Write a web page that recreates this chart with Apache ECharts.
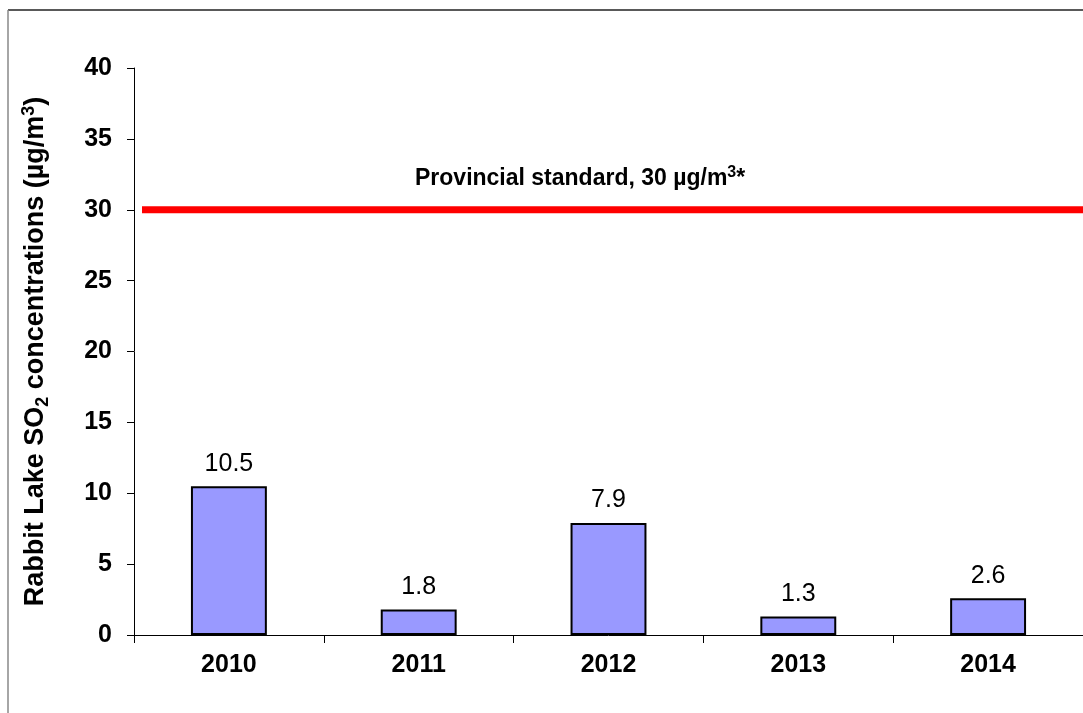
<!DOCTYPE html>
<html>
<head>
<meta charset="utf-8">
<script src="https://cdn.jsdelivr.net/npm/echarts@6/dist/echarts.min.js"></script>
<style>
  html, body { margin: 0; padding: 0; background: #fff; }
  #chart { width: 1083px; height: 713px; }
</style>
</head>
<body>
<div id="chart"></div>
<script>
// Annual mean SO2 concentrations at Rabbit Lake
const years = ['2010', '2011', '2012', '2013', '2014'];
const so2Values = [10.5, 1.8, 7.9, 1.3, 2.6];
const provincialStandard = 30;
const yTicks = { min: 0, max: 40, interval: 5 };

const chart = echarts.init(document.getElementById('chart'));
const font = 'Arial, "Liberation Sans", sans-serif';

const bold = (size, extra) => Object.assign(
  { fontFamily: font, fontWeight: 'bold', fontSize: size, color: '#000' }, extra || {});

chart.setOption({
  animation: false,
  backgroundColor: '#fff',
  grid: { left: 134, top: 68, height: 567, width: 961 },
  xAxis: {
    type: 'category',
    data: years,
    axisLine: { lineStyle: { color: '#000', width: 1 } },
    axisTick: { show: true, length: 8, alignWithLabel: false, lineStyle: { color: '#000' } },
    axisLabel: bold(25, { margin: 18 })
  },
  yAxis: {
    type: 'value',
    min: yTicks.min, max: yTicks.max, interval: yTicks.interval,
    name: '{a|Rabbit Lake SO}{sub|2}{a| concentrations (µg/m}{sup|3}{a|)}',
    nameLocation: 'middle',
    nameGap: 82,
    nameTextStyle: bold(27, {
      rich: {
        a: bold(27, { lineHeight: 32, verticalAlign: 'middle' }),
        sub: bold(18, { lineHeight: 32, verticalAlign: 'bottom' }),
        sup: bold(18, { lineHeight: 32, verticalAlign: 'top' })
      }
    }),
    axisLine: { show: true, lineStyle: { color: '#000', width: 1 } },
    axisTick: { show: true, length: 7, lineStyle: { color: '#000' } },
    splitLine: { show: false },
    axisLabel: bold(25, { margin: 22 })
  },
  series: [{
    type: 'bar',
    data: so2Values,
    barWidth: '40%',
    itemStyle: { color: '#9999FF', borderColor: '#000', borderWidth: 2 },
    label: {
      show: true, position: 'top', distance: 10,
      fontFamily: font, fontSize: 25, color: '#000',
      formatter: p => p.value.toFixed(1)
    }
  }]
});

// Provincial standard line, placed through the value axis scale
const yStd = chart.convertToPixel({ yAxisIndex: 0 }, provincialStandard);
chart.setOption({
  graphic: [
    { type: 'line', shape: { x1: 8, y1: 10, x2: 1083, y2: 10 }, style: { stroke: '#222', lineWidth: 1.5 } },
    { type: 'line', shape: { x1: 8, y1: 10, x2: 8, y2: 713 }, style: { stroke: '#888', lineWidth: 1.5 } },
    { type: 'line', shape: { x1: 142, y1: yStd, x2: 1083, y2: yStd }, style: { stroke: '#FF0000', lineWidth: 7 } },
    {
      type: 'text', left: 415, top: 165,
      style: {
        text: '{a|Provincial standard, 30 µg/m}{sup|3}{a|*}',
        rich: {
          a: bold(23, { lineHeight: 28, verticalAlign: 'middle' }),
          sup: bold(16, { lineHeight: 28, verticalAlign: 'top' })
        }
      }
    }
  ]
});
</script>
</body>
</html>
